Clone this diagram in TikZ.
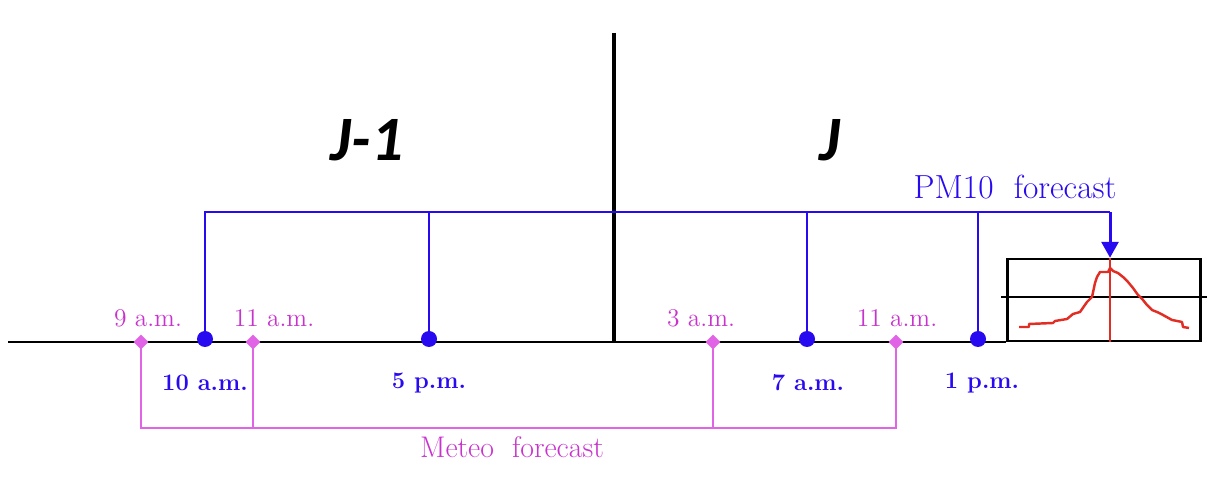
\documentclass[tikz,border=0pt]{standalone}
\usepackage{fontspec}
\newfontfamily\daysfont{Carlito}
\usetikzlibrary{arrows.meta,shapes.geometric,positioning}
\definecolor{pmblue}{RGB}{40,10,240}
\definecolor{meteomag}{RGB}{200,50,205}
\definecolor{meteoline}{RGB}{225,100,230}
\definecolor{curvered}{RGB}{225,45,35}

\begin{document}
\begin{tikzpicture}[x=0.02cm, y=-0.02cm, >=Stealth,
      dot/.style={circle, fill=pmblue, inner sep=0pt, minimum size=0.32cm},
      diam/.style={diamond, fill=meteoline, inner sep=0pt, minimum size=0.3cm},
      hourlab/.style={font=\fontsize{13.5}{16}\selectfont\bfseries, text=pmblue},
      metlab/.style={font=\fontsize{14.5}{17}\selectfont, text=meteomag},
      bline/.style={pmblue, line width=1.1pt},
      mline/.style={meteoline, line width=1.1pt}
    ]
    \useasboundingbox (0,0) rectangle (1210,502);

    % time axis and day divider
    \coordinate (axL) at (8,342);
    \coordinate (divT) at (614,33);
    \coordinate (divB) at (614,342);
    \node[draw, line width=1.4pt, minimum width=3.86cm, minimum height=1.64cm,
          inner sep=0pt] (plot) at (1104,300) {};
    \draw[line width=1.1pt] (axL) -- (axL -| plot.west);
    \draw[line width=2.6pt] (divT) -- (divB);

    \node[font=\daysfont\fontsize{36}{40}\selectfont\bfseries\itshape] (jm1) at (367,140) {J-1};
    \node[font=\daysfont\fontsize{36}{40}\selectfont\bfseries\itshape] (j) at (830,140) {J};

    % PM10 runs
    \node[dot] (d10) at (205,339) {};
    \node[dot] (d5)  at (429,339) {};
    \node[dot] (d7)  at (807,339) {};
    \node[dot] (d1)  at (978,339) {};
    \node[hourlab] (l10) at (205,383) {10 a.m.};
    \node[hourlab] (l5)  at (429,383) {5 p.m.};
    \node[hourlab] (l7)  at (808,383) {7 a.m.};
    \node[hourlab] (l1)  at (982,383) {1 p.m.};

    \coordinate (busL) at (205,212);
    \coordinate (busR) at (1110,212);
    \draw[pmblue, line width=1.7pt] (d10.center) -- (busL) -- (busR);
    \foreach \d in {d5,d7,d1}{ \draw[bline] (\d.center) -- (\d |- busL); }
    \draw[pmblue, line width=1.7pt, -{Triangle[width=0.34cm, length=0.32cm]}]
      (busR) -- (busR |- plot.north);
    \node[font=\fontsize{19}{22}\selectfont, text=pmblue] (pmlab) at (1015,187)
      {PM10\ \ forecast};

    % forecast plot
    \draw[line width=1.4pt] (1001,297) -- (1207,297);
    \draw[curvered, line width=1.3pt] (busR |- plot.north) -- (busR |- plot.south);
    \draw[curvered, line width=1.4pt, line join=round]
      (1019,327) -- (1029,327) -- (1029,324) -- (1053,323) -- (1055,321)
      -- (1067,319) -- (1073,314) -- (1080,312) -- (1087,302) -- (1092,297)
      -- (1095,283) -- (1097,277) -- (1100,272) -- (1108,272) -- (1110,268)
      -- (1113,271) -- (1118,273) -- (1123,277) -- (1128,282) -- (1133,288)
      -- (1138,295) -- (1143,300) -- (1147,305) -- (1152,310) -- (1157,312)
      -- (1163,315) -- (1172,320) -- (1182,322) -- (1183,327) -- (1189,328);

    % meteo runs
    \node[diam] (m9)  at (141,342) {};
    \node[diam] (m11) at (253,342) {};
    \node[diam] (m3)  at (713,342) {};
    \node[diam] (mb)  at (896,342) {};
    \node[metlab] (t9)  at (148,318) {9 a.m.};
    \node[metlab] (t11) at (274,318) {11 a.m.};
    \node[metlab] (t3)  at (701,318) {3 a.m.};
    \node[metlab] (tb)  at (897,318) {11 a.m.};

    \coordinate (mbus) at (141,428);
    \draw[mline] (m9.center) -- (mbus) -- (mbus -| mb) -- (mb.center);
    \foreach \m in {m11,m3}{ \draw[mline] (\m.center) -- (\m |- mbus); }
    \node[font=\fontsize{17}{20}\selectfont, text=meteomag] (metlab) at (512,447)
      {Meteo\ \ forecast};
  \end{tikzpicture}
\end{document}
